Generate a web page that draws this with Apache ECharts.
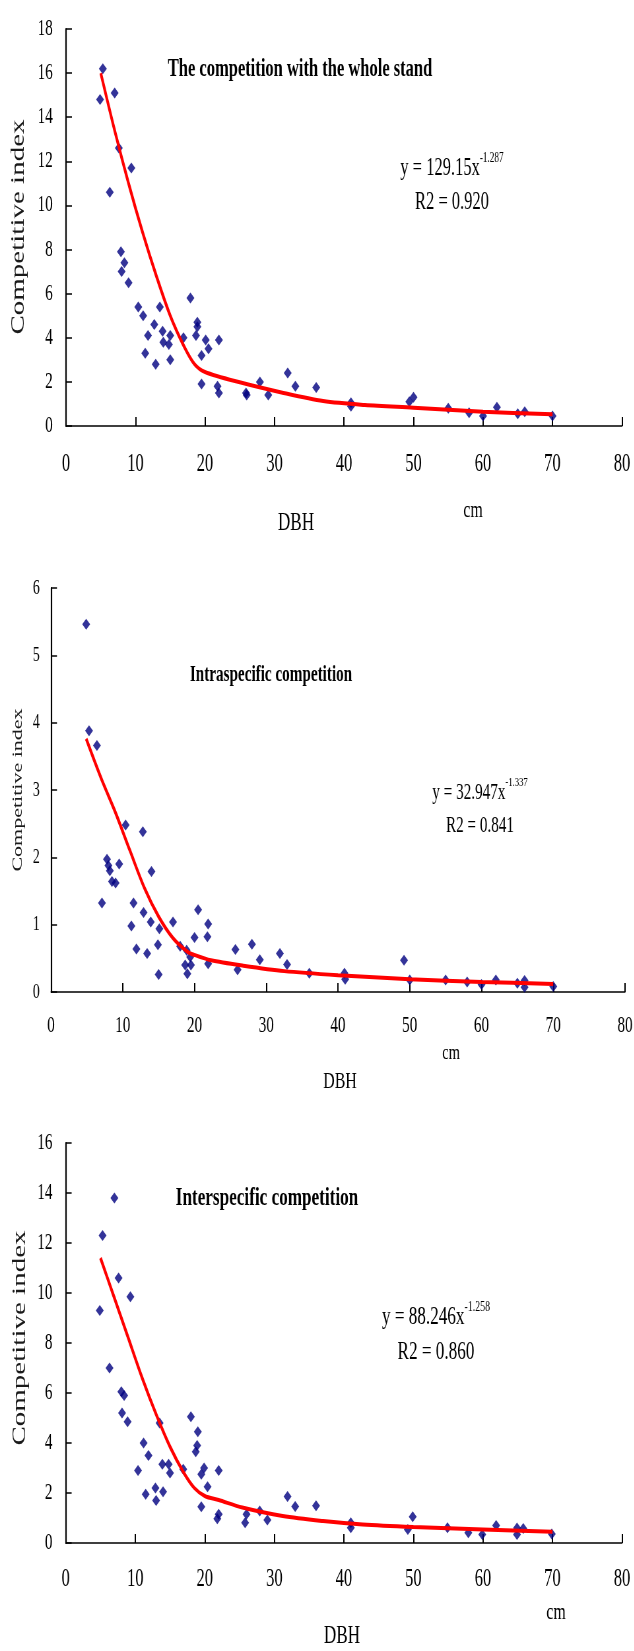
<!DOCTYPE html>
<html>
<head>
<meta charset="utf-8">
<script src="https://cdn.jsdelivr.net/npm/echarts@6/dist/echarts.min.js"></script>
<style>
html, body { margin: 0; padding: 0; background: #fff; overflow: hidden; }
#wrap { width: 634px; height: 1651px; overflow: hidden; }
/* the original figure is squeezed sideways, so the chart is drawn wide and narrowed */
#main { width: 960px; height: 1651px; transform: scaleX(0.66); transform-origin: 0 0; }
</style>
</head>
<body>
<div id="wrap"><div id="main"></div></div>
<script>
var myChart = echarts.init(document.getElementById('main'));

// DBH (cm), competitive index
var wholeStandPoints = [
    [4.9,14.8],[5.3,16.2],[6.3,10.6],[7.0,15.1],[7.6,12.6],[7.9,7.9],[8.0,7.0],[8.4,7.4],
    [9.0,6.5],[9.4,11.7],[10.4,5.4],[11.1,5.0],[11.4,3.3],[11.8,4.1],[12.7,4.6],[12.9,2.8],
    [13.5,5.4],[13.9,4.3],[14.0,3.8],[14.8,3.7],[15.0,4.1],[15.0,3.0],[16.9,4.0],[17.9,5.8],
    [18.7,4.1],[18.9,4.7],[18.9,4.5],[19.5,3.2],[19.5,1.9],[20.1,3.9],[20.5,3.5],[21.8,1.8],
    [22.0,1.5],[22.0,3.9],[25.9,1.5],[26.0,1.4],[27.9,2.0],[29.1,1.4],[31.9,2.4],[33.0,1.8],
    [36.0,1.75],[41.0,0.9],[41.0,1.05],[49.4,1.1],[50.0,1.3],[55.0,0.8],[58.0,0.6],[60.0,0.45],
    [62.0,0.85],[65.0,0.55],[66.0,0.65],[70.0,0.45]
];
var wholeStandCurve = [
    [5,16],[7,13.4],[9,11.0],[11,8.8],[13,6.8],[15,5.0],[17,3.6],[18.5,2.8],
    [20,2.45],[25,1.98],[31,1.52],[37,1.13],[43,0.95],[50,0.83],[60,0.65],[70,0.53]
];

var intraPoints = [
    [4.9,5.46],[5.3,3.88],[6.4,3.66],[7.1,1.32],[7.8,1.97],[8.0,1.88],[8.2,1.8],[8.5,1.64],
    [9.0,1.62],[9.5,1.9],[10.4,2.48],[11.2,0.98],[11.5,1.32],[11.9,0.64],[12.8,2.38],[12.9,1.18],
    [13.4,0.57],[13.9,1.04],[14.0,1.79],[14.9,0.7],[15.0,0.26],[15.1,0.94],[17.0,1.04],[18.0,0.68],
    [18.7,0.4],[18.9,0.62],[19.0,0.27],[19.4,0.52],[19.5,0.4],[20.0,0.81],[20.5,1.22],[21.8,0.82],
    [21.9,1.01],[21.9,0.42],[25.7,0.63],[26.0,0.33],[28.0,0.71],[29.1,0.48],[31.9,0.57],[32.9,0.41],
    [36.0,0.28],[40.9,0.28],[41.0,0.19],[49.2,0.47],[50.0,0.18],[55.0,0.18],[58.0,0.15],[60.0,0.11],
    [62.0,0.18],[65.0,0.13],[66.0,0.17],[66.0,0.07],[70.0,0.08]
];
var intraCurve = [
    [4.9,3.76],[7,3.17],[9,2.66],[11,2.1],[13,1.55],[15,1.12],[17,0.8],[19,0.6],[20,0.55],
    [22.3,0.47],[26.8,0.39],[32.5,0.31],[40,0.25],[50,0.19],[60,0.15],[70,0.12]
];

var interPoints = [
    [4.9,9.3],[5.3,12.3],[6.3,7.0],[7.0,13.8],[7.6,10.6],[8.0,6.05],[8.4,5.9],[8.1,5.2],
    [8.9,4.85],[9.3,9.85],[10.4,2.9],[11.2,4.0],[11.5,1.95],[11.9,3.5],[12.9,2.2],[13.0,1.7],
    [13.5,4.8],[13.9,3.15],[14.0,2.05],[14.8,3.15],[15.0,2.8],[16.9,2.95],[18.0,5.05],[18.7,3.65],
    [18.9,3.9],[19.0,4.45],[19.5,2.75],[19.5,1.45],[19.9,3.0],[20.4,2.25],[21.8,0.97],[22.0,1.15],
    [22.0,2.9],[25.8,0.81],[26.0,1.15],[27.9,1.28],[29.0,0.92],[31.9,1.86],[33.0,1.46],[36.0,1.49],
    [41.0,0.81],[41.0,0.61],[49.2,0.54],[49.9,1.05],[54.9,0.61],[57.9,0.41],[59.9,0.34],[61.9,0.7],
    [64.9,0.34],[64.9,0.6],[65.8,0.58],[69.9,0.36]
];
var interCurve = [
    [5,11.4],[7,9.8],[9,8.2],[11,6.6],[13,5.15],[15,3.85],[17,2.8],[18.5,2.2],[20,1.88],
    [22,1.72],[25.4,1.42],[31.2,1.08],[37,0.88],[42.7,0.74],[50,0.64],[60,0.54],[70,0.45]
];

var xTicks = { min: 0, max: 80, interval: 10 };
var yMax = [18, 6, 16];
var yStep = [2, 1, 2];

// page x (px) -> chart x before the squeeze
var sx = v => v / 0.66;
var serif = 'Liberation Serif';

var xAxisOf = (i, size, margin) => ({
    gridIndex: i, type: 'value', min: xTicks.min, max: xTicks.max, interval: xTicks.interval,
    axisLine: { lineStyle: { color: '#000', width: 1.5 } },
    axisTick: { inside: true, length: 9, lineStyle: { color: '#000', width: 2 } },
    axisLabel: { color: '#000', fontFamily: serif, fontSize: size, margin: margin },
    splitLine: { show: false }
});
var yAxisOf = (i, size, margin) => ({
    gridIndex: i, type: 'value', min: 0, max: yMax[i], interval: yStep[i],
    axisLine: { show: true, lineStyle: { color: '#000', width: 2.2 } },
    axisTick: { show: true, inside: true, length: 9, lineStyle: { color: '#000', width: 1.5 } },
    axisLabel: { color: '#000', fontFamily: serif, fontSize: size, margin: margin },
    splitLine: { show: false }
});

var text = (t, x, y, size, bold) => ({
    text: t, left: sx(x), top: y, textAlign: 'center', textVerticalAlign: 'middle', padding: 0,
    textStyle: { fontFamily: serif, fontSize: size, fontWeight: bold ? 'bold' : 'normal', color: '#000' }
});
var equation = (a, b, r2, x, y, size, gap) => ({
    text: '{m|y = ' + a + 'x}{s|' + b + '}\n{m|R2 = ' + r2 + '}',
    left: sx(x), top: y, textAlign: 'center', padding: 0,
    textStyle: {
        fontWeight: 'normal',
        rich: {
            m: { fontFamily: serif, fontSize: size, fontWeight: 'normal', lineHeight: gap, color: '#000' },
            s: { fontFamily: serif, fontSize: Math.round(size * 0.56), fontWeight: 'normal', lineHeight: gap - 14, verticalAlign: 'top', color: '#000' }
        }
    }
});
var yName = (x, y, size) => ({
    type: 'text', x: sx(x), y: y, rotation: Math.PI / 2,
    style: { text: 'Competitive index', font: size + 'px "Liberation Serif"', fill: '#1a1a1a', textAlign: 'center', textVerticalAlign: 'middle' }
});

var scatterOf = (i, data) => ({
    type: 'scatter', xAxisIndex: i, yAxisIndex: i, data: data,
    symbol: 'diamond', symbolSize: [12, 11], itemStyle: { color: '#000080' }
});
var curveOf = (i, data) => ({
    type: 'line', xAxisIndex: i, yAxisIndex: i, data: data, smooth: 0.3,
    showSymbol: false, lineStyle: { color: '#ff0000', width: 4 }
});

var option = {
    animation: false,
    backgroundColor: '#fff',
    grid: [
        { left: sx(66), width: sx(622 - 66), top: 29, height: 397, outerBoundsMode: 'none' },
        { left: sx(51), width: sx(625 - 51), top: 588, height: 404, outerBoundsMode: 'none' },
        { left: sx(65.7), width: sx(622 - 65.7), top: 1143, height: 400, outerBoundsMode: 'none' }
    ],
    xAxis: [xAxisOf(0, 25, 26), xAxisOf(1, 23, 22), xAxisOf(2, 25, 24)],
    yAxis: [yAxisOf(0, 23, 20), yAxisOf(1, 21, 17), yAxisOf(2, 23, 20)],
    title: [
        text('The competition with the whole stand', 300, 70, 25, true),
        equation('129.15', '-1.287', '0.920', 452, 151, 25, 34),
        text('DBH', 296, 523, 26),
        text('cm', 473, 511, 24),

        text('Intraspecific competition', 271, 675, 23, true),
        equation('32.947', '-1.337', '0.841', 480, 776, 23, 33),
        text('DBH', 340, 1082, 24),
        text('cm', 451, 1053, 22),

        text('Interspecific competition', 267, 1198, 26, true),
        equation('88.246', '-1.258', '0.860', 436, 1300, 26, 35),
        text('DBH', 342, 1636, 26),
        text('cm', 556, 1613, 24)
    ],
    graphic: [yName(19, 227, 29), yName(18, 790, 22), yName(20, 1338, 29)],
    series: [
        scatterOf(0, wholeStandPoints), curveOf(0, wholeStandCurve),
        scatterOf(1, intraPoints), curveOf(1, intraCurve),
        scatterOf(2, interPoints), curveOf(2, interCurve)
    ]
};

myChart.setOption(option);
</script>
</body>
</html>
